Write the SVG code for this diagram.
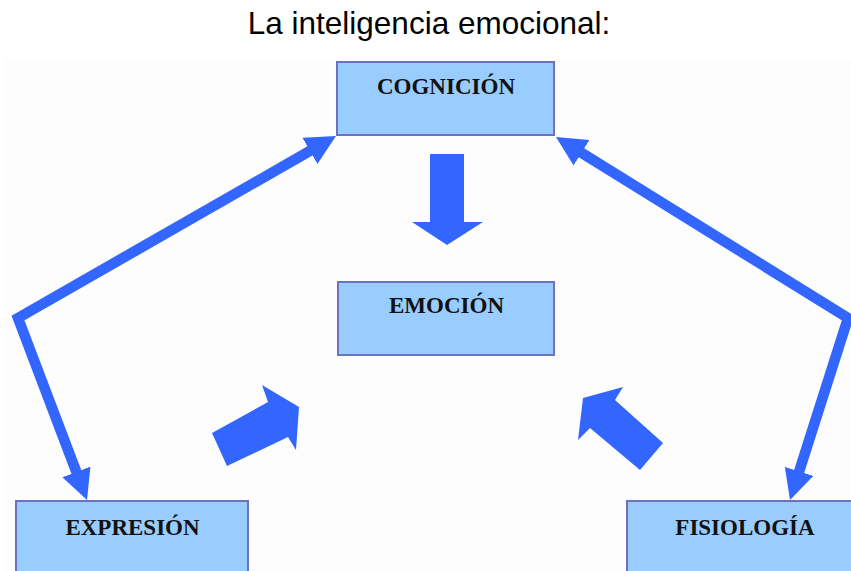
<svg xmlns="http://www.w3.org/2000/svg" width="851" height="571" viewBox="0 0 851 571">
  <style>
    .box { fill: #99ccff; stroke: #6f70bf; stroke-width: 2; }
    .lbl { font-family: "Liberation Serif", "Times New Roman", serif; font-weight: bold; font-size: 23px; fill: #111111; text-anchor: middle; }
    .title { font-family: "Liberation Sans", Arial, sans-serif; font-size: 31.5px; fill: #000000; text-anchor: middle; }
    .conn { fill: none; stroke: #3366ff; stroke-width: 10.5; stroke-linejoin: miter; }
    .block { fill: #3366ff; }
  </style>
  <defs>
    <marker id="ah" viewBox="0 -15 30 30" refX="2" refY="0" markerWidth="30" markerHeight="30" markerUnits="userSpaceOnUse" orient="auto-start-reverse">
      <path d="M0,-15 L30,0 L0,15 Z" fill="#3366ff"/>
    </marker>
  </defs>
  <rect x="0" y="0" width="851" height="571" fill="#ffffff"/>
  <rect x="5" y="59" width="846" height="512" fill="#fdfdfe"/>
  <text class="title" x="429" y="34">La inteligencia emocional:</text>

  <g id="connectors">
    <polyline class="conn" points="311.7,149.9 18,318 77.1,473.8" marker-start="url(#ah)" marker-end="url(#ah)"/>
    <polyline class="conn" points="579.8,151.8 848,318 798.5,473.3" marker-start="url(#ah)" marker-end="url(#ah)"/>
    <polygon class="block" points="430,154 464,154 464,222 483,222 447,245 412,222 430,222"/>
    <polygon class="block" points="212,433 268,402 262,385 299,407 296,450 288,437 227,466"/>
    <polygon class="block" points="583,398 623,387 615,400 663,443 640,470 590,428 578,440"/>
  </g>

  <g id="cognicion">
    <rect class="box" x="337" y="62" width="217" height="73"/>
    <text class="lbl" x="446" y="94">COGNICIÓN</text>
  </g>
  <g id="emocion">
    <rect class="box" x="338" y="282" width="216" height="73"/>
    <text class="lbl" x="446.5" y="313">EMOCIÓN</text>
  </g>
  <g id="expresion">
    <rect class="box" x="16" y="501" width="232" height="80"/>
    <text class="lbl" x="132.5" y="535">EXPRESIÓN</text>
  </g>
  <g id="fisiologia">
    <rect class="box" x="627" y="501" width="230" height="80"/>
    <text class="lbl" x="745" y="535">FISIOLOGÍA</text>
  </g>
</svg>
